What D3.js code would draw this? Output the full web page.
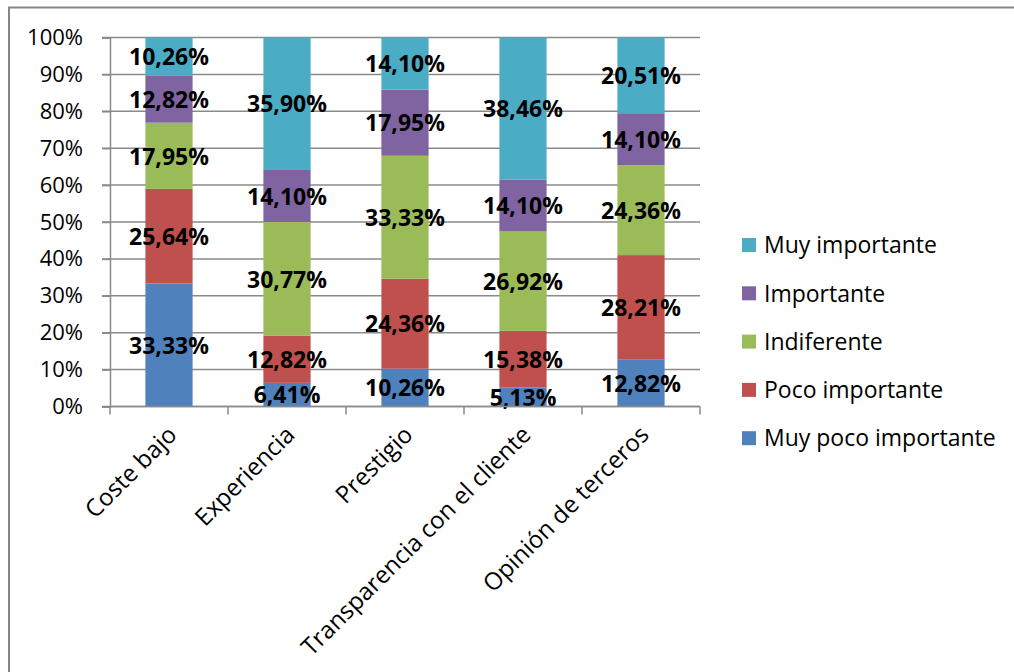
<!DOCTYPE html>
<html>
<head>
<meta charset="utf-8">
<script src="https://cdn.jsdelivr.net/npm/d3@7"></script>
<style>
  body { margin: 0; background: #fff; }
  svg { display: block; }
</style>
</head>
<body>
<svg id="canvas"></svg>
<script>
const categories = ["Coste bajo", "Experiencia", "Prestigio", "Transparencia con el cliente", "Opinión de terceros"];
const seriesNames = ["Muy poco importante", "Poco importante", "Indiferente", "Importante", "Muy importante"];
const muyPoco = [33.33, 6.41, 10.26, 5.13, 12.82];
const poco = [25.64, 12.82, 24.36, 15.38, 28.21];
const indiferente = [17.95, 30.77, 33.33, 26.92, 24.36];
const importante = [12.82, 14.10, 17.95, 14.10, 14.10];
const muyImportante = [10.26, 35.90, 14.10, 38.46, 20.51];
const yTicks = [0, 10, 20, 30, 40, 50, 60, 70, 80, 90, 100];
const colors = ["#4F81BD", "#C0504D", "#9BBB59", "#8064A2", "#4BACC6"];

const width = 1014, height = 672;
const plotLeft = 110, plotRight = 700, plotTop = 37.5, plotBottom = 406.5;
const font = "'Open Sans', sans-serif";

const svg = d3.select("#canvas").attr("width", width).attr("height", height);

// chart frame (only top and left edges are visible in the picture)
svg.append("rect")
    .attr("x", 9).attr("y", 7.5)
    .attr("width", 1100).attr("height", 800)
    .attr("fill", "none").attr("stroke", "#868686").attr("stroke-width", 2);

const table = categories.map((c, i) => ({
    cat: c,
    "Muy poco importante": muyPoco[i],
    "Poco importante": poco[i],
    "Indiferente": indiferente[i],
    "Importante": importante[i],
    "Muy importante": muyImportante[i]
}));

const stacked = d3.stack().keys(seriesNames)(table);

const x = d3.scaleBand().domain(categories).range([plotLeft, plotRight]).paddingInner(0.6).paddingOuter(0.3);
const y = d3.scaleLinear().domain([0, 100]).range([plotBottom, plotTop]);

// gridlines
svg.append("g")
    .selectAll("line")
    .data(yTicks)
    .enter()
    .append("line")
    .attr("x1", plotLeft - 8).attr("x2", plotRight)
    .attr("y1", d => y(d)).attr("y2", d => y(d))
    .attr("stroke", "#8a8a8a").attr("stroke-width", 1.5);

// y axis
const yAxis = d3.axisLeft(y).tickValues(yTicks).tickFormat(d => d + "%").tickSize(8).tickPadding(19);
const gy = svg.append("g").attr("transform", "translate(" + plotLeft + ",0)").call(yAxis);
gy.select(".domain").attr("stroke", "#8a8a8a").attr("stroke-width", 1.5);
gy.selectAll(".tick line").attr("stroke", "#8a8a8a").attr("stroke-width", 1.5);
gy.selectAll("text").style("font-family", font).style("font-size", "22px").attr("fill", "#000");

// bars
const layers = svg.append("g")
    .selectAll("g")
    .data(stacked)
    .enter()
    .append("g")
    .attr("fill", (d, i) => colors[i]);

layers.selectAll("rect")
    .data(d => d)
    .enter()
    .append("rect")
    .attr("x", d => x(d.data.cat))
    .attr("width", x.bandwidth())
    .attr("y", d => y(d[1]))
    .attr("height", d => y(d[0]) - y(d[1]));

// x axis with ticks between categories
const xEdges = d3.range(categories.length + 1).map(i => plotLeft + i * (plotRight - plotLeft) / categories.length);
const gx = svg.append("g");
gx.append("line")
    .attr("x1", plotLeft).attr("x2", plotRight)
    .attr("y1", plotBottom).attr("y2", plotBottom)
    .attr("stroke", "#8a8a8a").attr("stroke-width", 1.5);
gx.selectAll("line.tk")
    .data(xEdges)
    .enter()
    .append("line")
    .attr("class", "tk")
    .attr("x1", d => d).attr("x2", d => d)
    .attr("y1", plotBottom).attr("y2", plotBottom + 8)
    .attr("stroke", "#8a8a8a").attr("stroke-width", 1.5);

gx.selectAll("text")
    .data(categories)
    .enter()
    .append("text")
    .attr("transform", d => "translate(" + (x(d) + x.bandwidth() / 2 - 3) + "," + 424 + ") rotate(-45)")
    .attr("text-anchor", "end")
    .attr("dy", "0.72em")
    .style("font-family", font)
    .style("font-size", "24px")
    .attr("fill", "#000")
    .text(d => d);

// value labels
const fmt = v => v.toFixed(2).replace(".", ",") + "%";
layers.selectAll("text")
    .data(d => d.map(p => ({ p: p, v: p[1] - p[0] })))
    .enter()
    .append("text")
    .attr("x", d => x(d.p.data.cat) + x.bandwidth() / 2)
    .attr("y", d => y((d.p[0] + d.p[1]) / 2))
    .attr("dy", "0.38em")
    .attr("text-anchor", "middle")
    .style("font-family", font)
    .style("font-size", "23px")
    .style("font-weight", "bold")
    .attr("fill", "#000")
    .text(d => fmt(d.v));

// legend (top entry is the last series)
const legend = svg.append("g")
    .selectAll("g")
    .data(seriesNames.slice().reverse())
    .enter()
    .append("g")
    .attr("transform", (d, i) => "translate(742," + (245 + i * 48.3) + ")");

legend.append("rect")
    .attr("x", 0).attr("y", -7)
    .attr("width", 14).attr("height", 14)
    .attr("fill", d => colors[seriesNames.indexOf(d)]);

legend.append("text")
    .attr("x", 22).attr("dy", "0.36em")
    .style("font-family", font)
    .style("font-size", "23px")
    .attr("fill", "#000")
    .text(d => d);
</script>
</body>
</html>
